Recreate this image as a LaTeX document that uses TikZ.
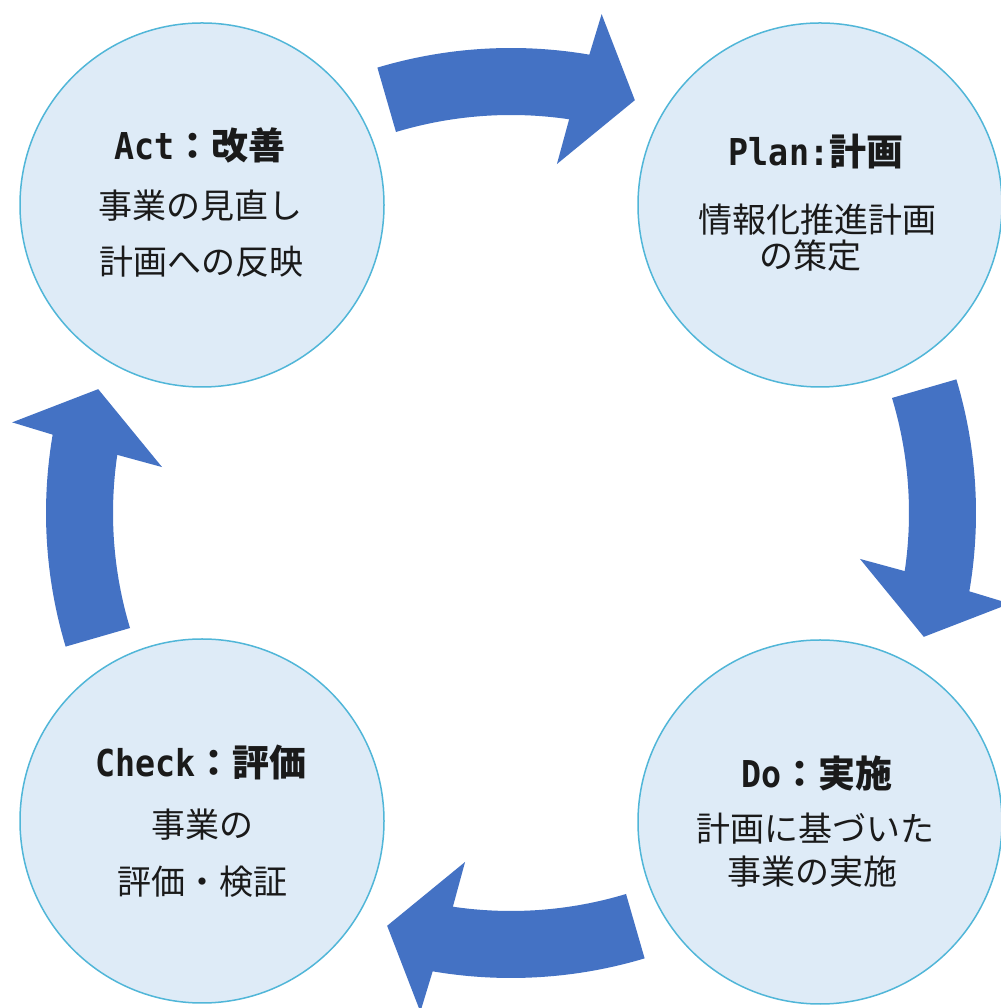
\documentclass[tikz,border=0pt]{standalone}
\usepackage{fontspec}
\usetikzlibrary{calc}
\newfontfamily\jp{Noto Sans CJK JP}
\newfontfamily\lat{DejaVu Sans Mono}[FakeStretch=0.9]
\definecolor{fillc}{HTML}{DEEBF7}
\definecolor{edgec}{HTML}{50B6D8}
\definecolor{arrowc}{HTML}{4472C4}
\definecolor{txtc}{HTML}{1A1A1A}
\tikzset{
  stage/.style={circle, draw=edgec, fill=fillc, line width=1.5pt, minimum size=364pt, inner sep=0pt},
  ttl/.style={text=txtc, font=\jp\bfseries\fontsize{37}{40}\selectfont, inner sep=0pt},
  sub/.style={text=txtc, font=\jp\fontsize{34}{38}\selectfont, inner sep=0pt},
  blockarrow/.style={fill=arrowc, draw=none}
}
\newcommand{\cyclearrow}{%
  \fill[blockarrow] (106.7:465) arc[start angle=106.7, end angle=80.3, radius=465pt]
    -- (79.7:507) -- (73.3:431) -- (82.5:352) -- (81.6:398)
    arc[start angle=81.6, end angle=106.8, radius=398pt] -- cycle;}
\begin{document}
\begin{tikzpicture}[x=1pt, y=1pt]
\useasboundingbox (0,0) rectangle (1000,1008);
\fill[white] (0,0) rectangle (1000,1008);
\coordinate (C) at (511,495);
% circles
\node[stage] (act) at (202,803) {};
\node[stage] (plan) at (820,803) {};
\node[stage] (do) at (820,186) {};
\node[stage] (check) at (202,187) {};
% arrows
\foreach \k in {0,1,2,3}{
  \begin{scope}[shift={(C)}, rotate=-90*\k]
    \cyclearrow
  \end{scope}
}
% Act
\node[ttl] (actT) at (200,863) {{\lat Act}：改善};
\node[sub] (actA) at (200,802) {事業の見直し};
\node[sub] (actB) at (201,746) {計画への反映};
% Plan
\node[ttl] (planT) at (816,856) {{\lat Plan:}計画};
\node[sub] (planA) at (817,788) {情報化推進計画};
\node[sub] (planB) at (810,752) {の策定};
% Do
\node[ttl] (doT) at (817,235) {{\lat Do}：実施};
\node[sub] (doA) at (815,179) {計画に基づいた};
\node[sub] (doB) at (812,136) {事業の実施};
% Check
\node[ttl] (checkT) at (201,246) {{\lat Check}：評価};
\node[sub] (checkA) at (202,183) {事業の};
\node[sub] (checkB) at (202,126) {評価・検証};
\end{tikzpicture}
\end{document}
